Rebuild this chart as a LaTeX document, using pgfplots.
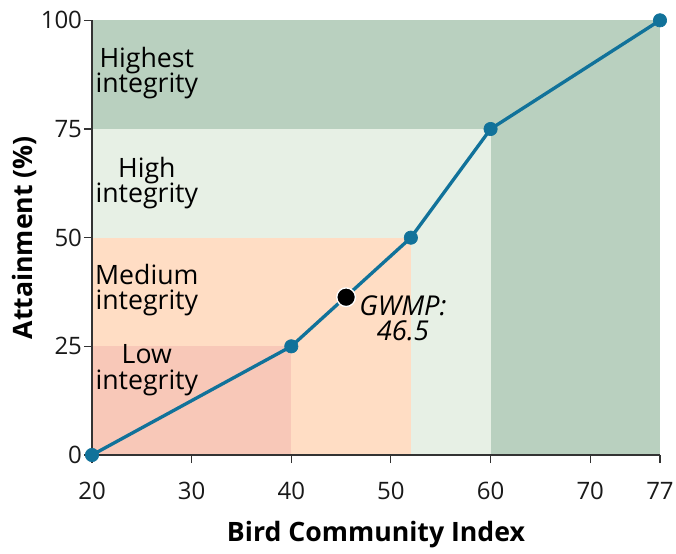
\documentclass[border=0pt]{standalone}
\usepackage{pgfplots}
\pgfplotsset{compat=1.18}
\usepackage{fontspec}
\setmainfont{Open Sans}
\definecolor{dgreen}{HTML}{B9D0BF}
\definecolor{lgreen}{HTML}{E7F0E5}
\definecolor{lorange}{HTML}{FFDDC4}
\definecolor{lpink}{HTML}{F8C8B8}
\definecolor{lineblue}{HTML}{11729A}
\begin{document}
\begin{tikzpicture}
\begin{axis}[
  scale only axis,
  width=426pt, height=326pt,
  xmin=20, xmax=77, ymin=0, ymax=100,
  axis x line*=bottom, axis y line*=left,
  axis line style={black!80, line width=0.8pt, -},
  tick align=outside,
  tick style={black!80, line width=0.8pt},
  major tick length=6pt,
  xtick={20,30,40,50,60,70,77},
  ytick={0,25,50,75,100},
  /pgf/number format/assume math mode=true,
  ticklabel style={font=\fontsize{18}{21}\selectfont, black!90},
  xticklabel style={yshift=-11pt},
  yticklabel style={xshift=2pt},
  xlabel={\textbf{Bird Community Index}},
  ylabel={\textbf{Attainment (\%)}},
  xlabel style={font=\fontsize{20}{23}\selectfont, at={(axis description cs:0.5,-0.182)}, anchor=center},
  ylabel style={font=\fontsize{20}{23}\selectfont, at={(axis description cs:-0.118,0.5)}, anchor=center},
  clip=false,
]
\addplot[draw=none, fill=dgreen] coordinates {(20,0)(77,0)(77,100)(20,100)} -- cycle;
\addplot[draw=none, fill=lgreen] coordinates {(20,0)(60,0)(60,75)(20,75)} -- cycle;
\addplot[draw=none, fill=lorange] coordinates {(20,0)(52,0)(52,50)(20,50)} -- cycle;
\addplot[draw=none, fill=lpink] coordinates {(20,0)(40,0)(40,25)(20,25)} -- cycle;
\draw[black!80, line width=0.8pt] (axis cs:20,0) -- (axis cs:20,100);
\draw[black!80, line width=0.8pt] (axis cs:20,0) -- (axis cs:77,0);
\addplot[color=lineblue, line width=2.5pt, mark=*, mark size=5pt, mark options={fill=lineblue, draw=lineblue, line width=0.5pt}] coordinates {(20,0)(40,25)(52,50)(60,75)(77,100)};
\addplot[only marks, mark=*, mark size=7pt, mark options={fill=black, draw=white, line width=1pt}] coordinates {(45.5,36.3)};
\node[align=center, font=\fontsize{20}{21}\selectfont, inner sep=0pt] at (axis cs:25.5,87.8) {Highest\\[-2pt]integrity};
\node[align=center, font=\fontsize{20}{21}\selectfont, inner sep=0pt] at (axis cs:25.5,62.5) {High\\[-2pt]integrity};
\node[align=center, font=\fontsize{20}{21}\selectfont, inner sep=0pt] at (axis cs:25.5,38) {Medium\\[-2pt]integrity};
\node[align=center, font=\fontsize{20}{21}\selectfont, inner sep=0pt] at (axis cs:25.5,19.5) {Low\\[-2pt]integrity};
\node[align=center, font=\fontsize{20.5}{21}\selectfont\itshape, inner sep=0pt] at (axis cs:51.2,31.5) {GWMP:\\[-2pt]46.5};
\end{axis}
\pgfresetboundingbox
\path[use as bounding box] (current axis.south west) ++(-69pt,-74.25pt) rectangle ++(507pt,415.5pt);
\end{tikzpicture}
\end{document}
